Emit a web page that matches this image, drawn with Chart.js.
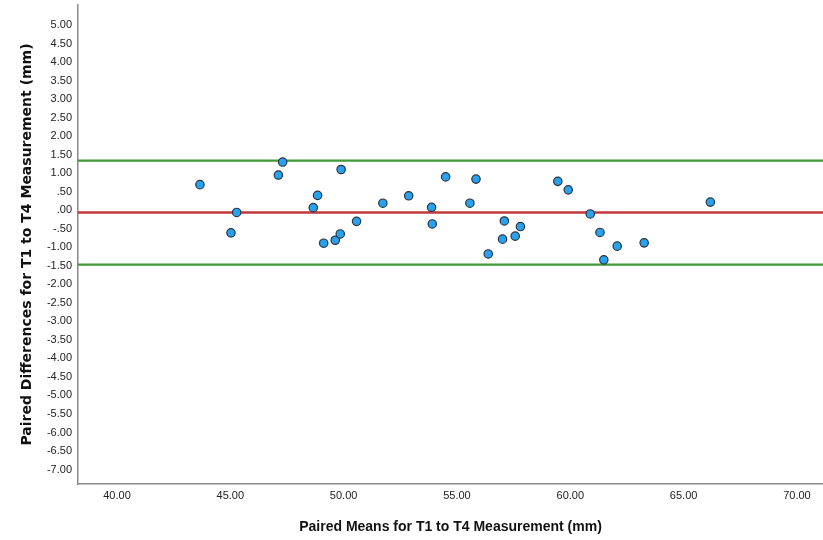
<!DOCTYPE html>
<html>
<head>
<meta charset="utf-8">
<script src="https://cdn.jsdelivr.net/npm/chart.js@4/dist/chart.umd.min.js"></script>
<style>
  html, body { margin: 0; padding: 0; background: #fff; }
  #wrap { width: 823px; height: 540px; position: relative; }
</style>
</head>
<body>
<div id="wrap"><canvas id="c" width="823" height="540"></canvas></div>
<script>
// Paired means (x) and paired differences (y)
const pairedMeans = [43.66, 45.03, 45.28, 47.12, 47.31, 48.85, 48.66, 49.89, 49.12, 49.63, 49.85, 50.57, 51.73,
  52.87, 53.88, 53.91, 54.50, 55.57, 55.84, 56.38, 57.09, 57.01, 57.57, 57.80, 59.45, 59.91, 60.88, 61.31,
  61.48, 62.07, 63.26, 66.18];
const pairedDiffs = [0.69, -0.61, -0.06, 0.95, 1.30, 0.40, 0.07, 1.10, -0.89, -0.81, -0.64, -0.30, 0.19,
  0.39, 0.08, -0.37, 0.90, 0.19, 0.84, -1.18, -0.29, -0.78, -0.70, -0.44, 0.78, 0.55, -0.10, -0.60,
  -1.34, -0.97, -0.88, 0.22];

// Reference lines: mean difference and limits of agreement
const meanDiff = -0.06;
const upperLimit = 1.34;
const lowerLimit = -1.47;

// Axis ticks
const xTicks = [40, 45, 50, 55, 60, 65, 70];
const yTicks = [5, 4.5, 4, 3.5, 3, 2.5, 2, 1.5, 1, 0.5, 0, -0.5, -1, -1.5, -2, -2.5, -3, -3.5, -4, -4.5,
  -5, -5.5, -6, -6.5, -7];

const X_MIN = 38.28, X_MAX = 71.15, Y_MIN = -7.39, Y_MAX = 5.54;

function spssFmt(v) {
  let s = Math.abs(v).toFixed(2);
  if (s.startsWith('0')) s = s.slice(1);
  return (v < 0 ? '-' : '') + s;
}

const hline = (y, color, width) => ({
  type: 'line',
  data: [{x: X_MIN, y: y}, {x: X_MAX, y: y}],
  borderColor: color,
  borderWidth: width,
  pointRadius: 0,
  fill: false,
  order: 2
});

const noPad = s => { s.paddingLeft = 0; s.paddingRight = 0; s.paddingTop = 0; s.paddingBottom = 0; };

new Chart(document.getElementById('c'), {
  type: 'scatter',
  data: {
    datasets: [
      {
        type: 'scatter',
        data: pairedMeans.map((m, i) => ({x: m, y: pairedDiffs[i]})),
        backgroundColor: '#27a2ee',
        borderColor: '#2b3440',
        borderWidth: 1.2,
        pointRadius: 4.2,
        order: 0
      },
      hline(upperLimit, '#3f9a3a', 2.2),
      hline(lowerLimit, '#3f9a3a', 2.2),
      hline(meanDiff, '#c0393c', 2.6)
    ]
  },
  options: {
    responsive: false,
    animation: false,
    layout: { autoPadding: false, padding: { top: 5, right: 0, left: 0, bottom: 0 } },
    plugins: { legend: { display: false }, tooltip: { enabled: false } },
    scales: {
      x: {
        type: 'linear',
        min: X_MIN, max: X_MAX,
        grid: { display: false, drawTicks: false },
        border: { display: true, color: '#8a8a8a', width: 1.5 },
        afterBuildTicks: s => { s.ticks = xTicks.map(v => ({value: v})); },
        afterFit: s => { s.height = 56; noPad(s); },
        ticks: {
          padding: 5,
          color: '#222',
          font: { family: '"Liberation Sans", Arial', size: 11 },
          callback: v => spssFmt(v),
          maxRotation: 0
        },
        title: {
          display: true,
          text: 'Paired Means for T1 to T4 Measurement (mm)',
          color: '#111',
          font: { family: '"Liberation Sans", Arial', size: 14, weight: 'bold' },
          padding: { top: 0, bottom: 4 }
        }
      },
      y: {
        type: 'linear',
        min: Y_MIN, max: Y_MAX,
        grid: { display: false, drawTicks: false },
        border: { display: true, color: '#8a8a8a', width: 1.5 },
        afterBuildTicks: s => { s.ticks = yTicks.map(v => ({value: v})); },
        afterFit: s => { s.width = 78; noPad(s); },
        ticks: {
          padding: 6,
          color: '#222',
          font: { family: '"Liberation Sans", Arial', size: 11 },
          callback: v => spssFmt(v),
          autoSkip: false
        },
        title: {
          display: true,
          text: 'Paired Differences for T1 to T4 Measurement (mm)',
          color: '#111',
          font: { family: '"DejaVu Sans", Verdana', size: 14, weight: 'bold' },
          padding: { top: 19, bottom: 0 }
        }
      }
    }
  }
});
</script>
</body>
</html>
